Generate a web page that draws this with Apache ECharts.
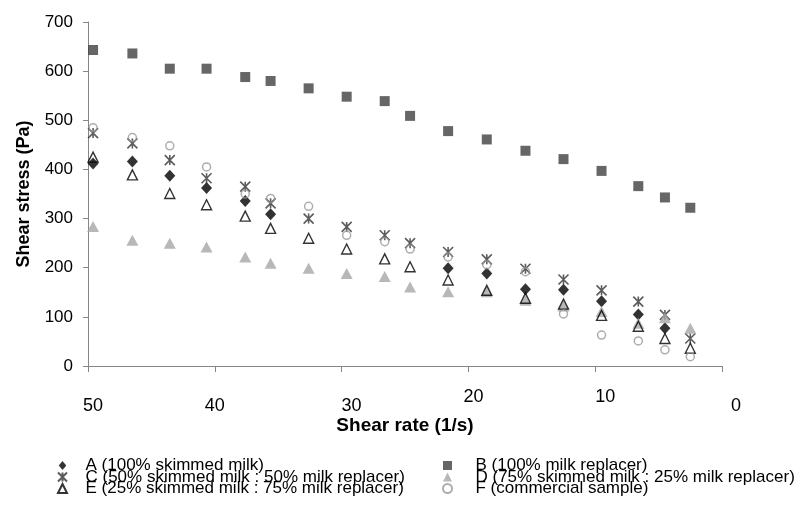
<!DOCTYPE html>
<html><head><meta charset="utf-8">
<script src="https://cdn.jsdelivr.net/npm/echarts@6/dist/echarts.min.js"></script>
<style>html,body{margin:0;padding:0;background:#fff}#c{width:804px;height:506px}</style>
</head><body><div id="c"></div>
<script>
// ---- data ----
const shearRate = [49.6, 46.5, 43.55, 40.65, 37.6, 35.6, 32.6, 29.6, 26.6, 24.6, 21.6, 18.55, 15.5, 12.5, 9.5, 6.6, 4.5, 2.5];
const stressA = [412, 416, 387, 362, 336, 309, null, null, null, null, 199, 188, 156, 155, 132, 105, 77, null];
const stressB = [643, 636, 605, 605, 588, 580, 565, 548, 539, 509, 478, 461, 438, 421, 397, 366, 343, 322];
const stressC = [474, 453, 419, 382, 365, 331, 300, 283, 266, 250, 232, 217, 198, 176, 154, 131, 104, 56];
const stressD = [284, 256, 250, 242, 222, 209, 199, 188, 182, 161, 151, 151, 134, 122, 111, 87, 98, 77];
const stressE = [425, 389, 351, 328, 305, 280, 260, 238, 218, 202, 175, 154, 138, 126, 103, 81, 56, 36];
const stressF = [485, 465, 448, 405, 350, 341, 325, 266, 253, 238, 222, 206, 192, 106, 63, 51, 33, 19];
const seriesNames = [
  'A (100% skimmed milk)',
  'B (100% milk replacer)',
  'C (50% skimmed milk : 50% milk replacer)',
  'D (75% skimmed milk : 25% milk replacer)',
  'E (25% skimmed milk : 75% milk replacer)',
  'F (commercial sample)'
];
const xTickLabels = ['0', '10', '20', '30', '40', '50'];
const yTickLabels = ['0', '100', '200', '300', '400', '500', '600', '700'];
const xTitle = 'Shear rate (1/s)';
const yTitle = 'Shear stress (Pa)';

// ---- presentation ----
const FONT = '"Liberation Sans", Arial, sans-serif';
const pairs = arr => shearRate.map((x, i) => [x, arr[i]]).filter(p => p[1] !== null);
// label nudges [dx, dy] to mimic the reference's staggered tick labels
const labelNudge = {'0': [14, 0], '10': [10, -9], '20': [5, -9], '30': [10, 0], '40': [0, 0], '50': [5, 0]};
const rich = {};
xTickLabels.forEach(t => {
  const n = labelNudge[t];
  rich['t' + t] = {fontSize: 18, fontFamily: FONT, color: '#000', padding: [9 + n[1], 0, 0, 2 * n[0]]};
});

const asterisk = 'path://M0 0L10 10M10 0L0 10M5 0L5 10';
const icons = {
  diamond: 'path://M5 0L10 6L5 12L0 6Z',
  square: 'path://M0 0H10V10H0Z',
  asterisk: asterisk,
  triangle: 'path://M5 0L10 10L0 10Z',
  circle: 'path://M0 5A5 5 0 1 1 10 5A5 5 0 1 1 0 5Z'
};

const legendText = {fontSize: 17, fontFamily: FONT, color: '#000', lineHeight: 12.5};

const chart = echarts.init(document.getElementById('c'), null, {renderer: 'canvas'});
chart.setOption({
  animation: false,
  backgroundColor: '#fff',
  grid: {left: 88, right: 82, top: 22, bottom: 140},
  xAxis: {
    type: 'value', min: 0, max: 50, interval: 10, inverse: true,
    name: xTitle, nameLocation: 'middle', nameGap: 50, nameMoveOverlap: false,
    nameTextStyle: {fontSize: 19, fontWeight: 'bold', fontFamily: FONT, color: '#000'},
    axisLine: {show: true, onZero: false, lineStyle: {color: '#868686', width: 1}},
    axisTick: {show: true, length: 6, lineStyle: {color: '#868686'}},
    splitLine: {show: false},
    axisLabel: {
      margin: 22,
      formatter: v => { const s = String(v); return xTickLabels.includes(s) ? '{t' + s + '|' + s + '}' : ''; },
      rich: rich
    }
  },
  yAxis: {
    type: 'value', min: 0, max: 700, interval: 100,
    name: yTitle, nameLocation: 'middle', nameGap: 55, nameMoveOverlap: false,
    nameTextStyle: {fontSize: 18, fontWeight: 'bold', fontFamily: FONT, color: '#000'},
    axisLine: {show: true, onZero: false, lineStyle: {color: '#868686', width: 1}},
    axisTick: {show: true, length: 5, lineStyle: {color: '#868686'}},
    splitLine: {show: false},
    axisLabel: {
      margin: 15, fontSize: 17, fontFamily: FONT, color: '#000',
      formatter: v => yTickLabels.includes(String(v)) ? String(v) : ''
    }
  },
  legend: [
    {
      data: [
        {name: seriesNames[0], icon: icons.diamond},
        {name: seriesNames[2], icon: icons.asterisk},
        {name: seriesNames[4], icon: icons.triangle}
      ],
      orient: 'vertical', left: 57, top: 457, height: 80, padding: 0, itemGap: -5.5,
      itemWidth: 36, itemHeight: 9, symbolKeepAspect: true,
      textStyle: legendText
    },
    {
      data: [
        {name: seriesNames[1], icon: icons.square},
        {name: seriesNames[3], icon: icons.triangle},
        {name: seriesNames[5], icon: icons.circle}
      ],
      orient: 'vertical', left: 442, top: 457, height: 80, padding: 0, itemGap: -5.5,
      itemWidth: 46, itemHeight: 9, symbolKeepAspect: true,
      textStyle: legendText
    }
  ],
  series: [
    {name: seriesNames[0], type: 'scatter', data: pairs(stressA), symbol: 'diamond', symbolSize: [11, 12],
     itemStyle: {color: '#000'}},
    {name: seriesNames[1], type: 'scatter', data: pairs(stressB), symbol: 'rect', symbolSize: 10,
     itemStyle: {color: '#404040'}},
    {name: seriesNames[2], type: 'scatter', data: pairs(stressC), symbol: asterisk, symbolSize: 10,
     itemStyle: {color: 'rgba(0,0,0,0)', borderColor: '#333', borderWidth: 1.6}},
    {name: seriesNames[3], type: 'scatter', data: pairs(stressD), symbol: 'triangle', symbolSize: [12, 11],
     itemStyle: {color: '#a6a6a6'}},
    {name: seriesNames[4], type: 'scatter', data: pairs(stressE), symbol: 'triangle', symbolSize: [10, 10],
     itemStyle: {color: 'rgba(0,0,0,0)', borderColor: '#000', borderWidth: 1.4}},
    {name: seriesNames[5], type: 'scatter', data: pairs(stressF), symbol: 'circle', symbolSize: 8,
     itemStyle: {color: 'rgba(0,0,0,0)', borderColor: '#999', borderWidth: 1.5}}
  ]
});
</script></body></html>
